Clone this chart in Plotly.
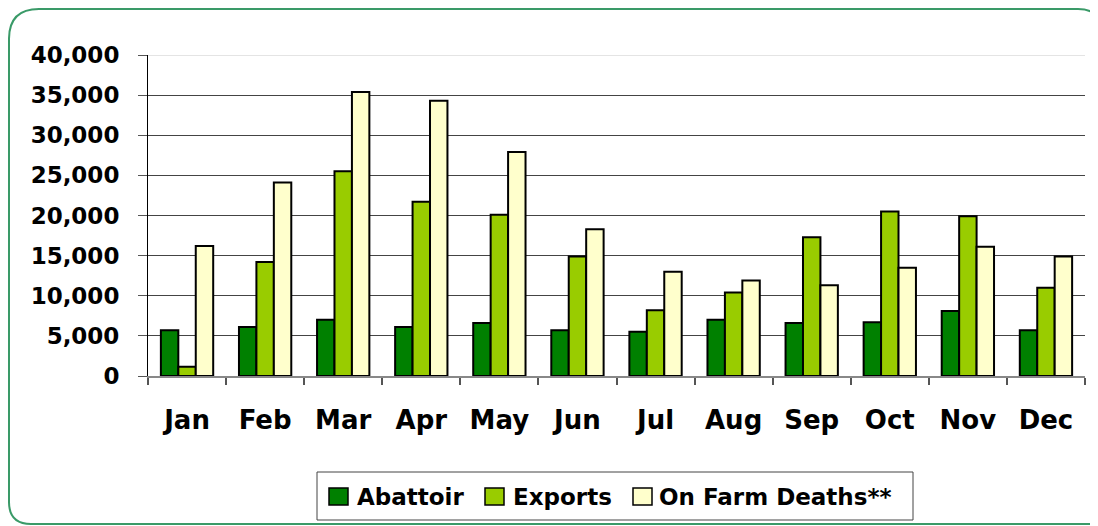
import plotly.graph_objects as go

months = ['Jan', 'Feb', 'Mar', 'Apr', 'May', 'Jun', 'Jul', 'Aug', 'Sep', 'Oct', 'Nov', 'Dec']
abattoir = [5700, 6100, 7000, 6100, 6600, 5700, 5500, 7000, 6600, 6700, 8100, 5700]
exports = [1150, 14200, 25500, 21700, 20100, 14900, 8200, 10400, 17300, 20500, 19900, 11000]
farm_deaths = [16200, 24100, 35400, 34300, 27900, 18300, 13000, 11900, 11300, 13500, 16100, 14900]
y_ticks = [0, 5000, 10000, 15000, 20000, 25000, 30000, 35000, 40000]

series = [('Abattoir', abattoir, '#008000'),
          ('Exports', exports, '#99cc00'),
          ('On Farm Deaths**', farm_deaths, '#ffffcc')]

OFF = 8  # page body margin
W, H = 1098 - OFF, 526 - OFF  # so the page does not overflow the window
L, R, T, B = 140, 13, 47, 150
pw, ph = W - L - R, H - T - B

## helpers: window pixel -> paper coords
def px_x(x):
    return (x - OFF - L) / pw

def px_y(y):
    return (H - B - (y - OFF)) / ph

def pt(x, y):
    return '{:.5f},{:.5f}'.format(px_x(x), px_y(y))

def main():
    fig = go.Figure()
    for name, vals, col in series:
        fig.add_trace(go.Bar(name=name, x=months, y=vals, showlegend=False,
                             marker=dict(color=col, line=dict(color='black', width=2))))

    ## rounded green frame; its right side runs off the page
    frame = ('M ' + pt(1120, 524) + ' L ' + pt(31, 524) + ' Q ' + pt(9, 524) + ' ' + pt(9, 502)
             + ' L ' + pt(9, 39) + ' Q ' + pt(9, 9) + ' ' + pt(39, 9)
             + ' L ' + pt(1078, 9) + ' Q ' + pt(1101, 9) + ' ' + pt(1101, 31)
             + ' L ' + pt(1101, 540))
    fig.add_shape(type='path', path=frame, xref='paper', yref='paper',
                  line=dict(color='#3a9a68', width=2), layer='below')

    ## light top gridline
    fig.add_shape(type='line', xref='paper', yref='y', x0=0, x1=1, y0=40000, y1=40000,
                  line=dict(color='#e4e4e4', width=2), layer='between')

    ## legend box drawn by hand (bigger swatches than plotly's)
    fig.add_shape(type='rect', xref='paper', yref='paper', x0=px_x(317), x1=px_x(913),
                  y0=px_y(472), y1=px_y(520), line=dict(color='#444', width=1),
                  fillcolor='white')
    sw_x = [329, 485, 633]
    tx_x = [355, 511, 657]
    for (name, vals, col), sx, tx in zip(series, sw_x, tx_x):
        fig.add_shape(type='rect', xref='paper', yref='paper', x0=px_x(sx), x1=px_x(sx + 19),
                      y0=px_y(488), y1=px_y(505), line=dict(color='black', width=1.5),
                      fillcolor=col)
        fig.add_annotation(text='<b>' + name + '</b>', xref='paper', yref='paper',
                           x=px_x(tx), y=px_y(497), xanchor='left', yanchor='middle',
                           showarrow=False, font=dict(size=23, color='black'))

    fig.update_layout(
        width=W, height=H,
        margin=dict(l=L, r=R, t=T, b=B),
        paper_bgcolor='white', plot_bgcolor='white',
        barmode='group', bargap=0.33, bargroupgap=0,
        font=dict(family='DejaVu Sans', size=22, color='black'),
        showlegend=False,
    )
    fig.update_xaxes(showline=True, linecolor='#888', linewidth=2, ticks='outside',
                     tickson='boundaries', ticklen=7, tickcolor='#555', tickwidth=2,
                     tickfont=dict(size=26, weight='bold'), ticklabelstandoff=20,
                     showgrid=False)
    fig.update_yaxes(range=[0, 40000], tickvals=y_ticks, tickformat=',', showline=True,
                     linecolor='black', linewidth=1, ticks='outside', ticklen=9,
                     tickcolor='#555', gridcolor='#444', gridwidth=1,
                     tickfont=dict(size=23, weight='bold'), ticklabelstandoff=14,
                     zeroline=False)
    fig.write_html('out.html')

if __name__ == '__main__':
    main()
